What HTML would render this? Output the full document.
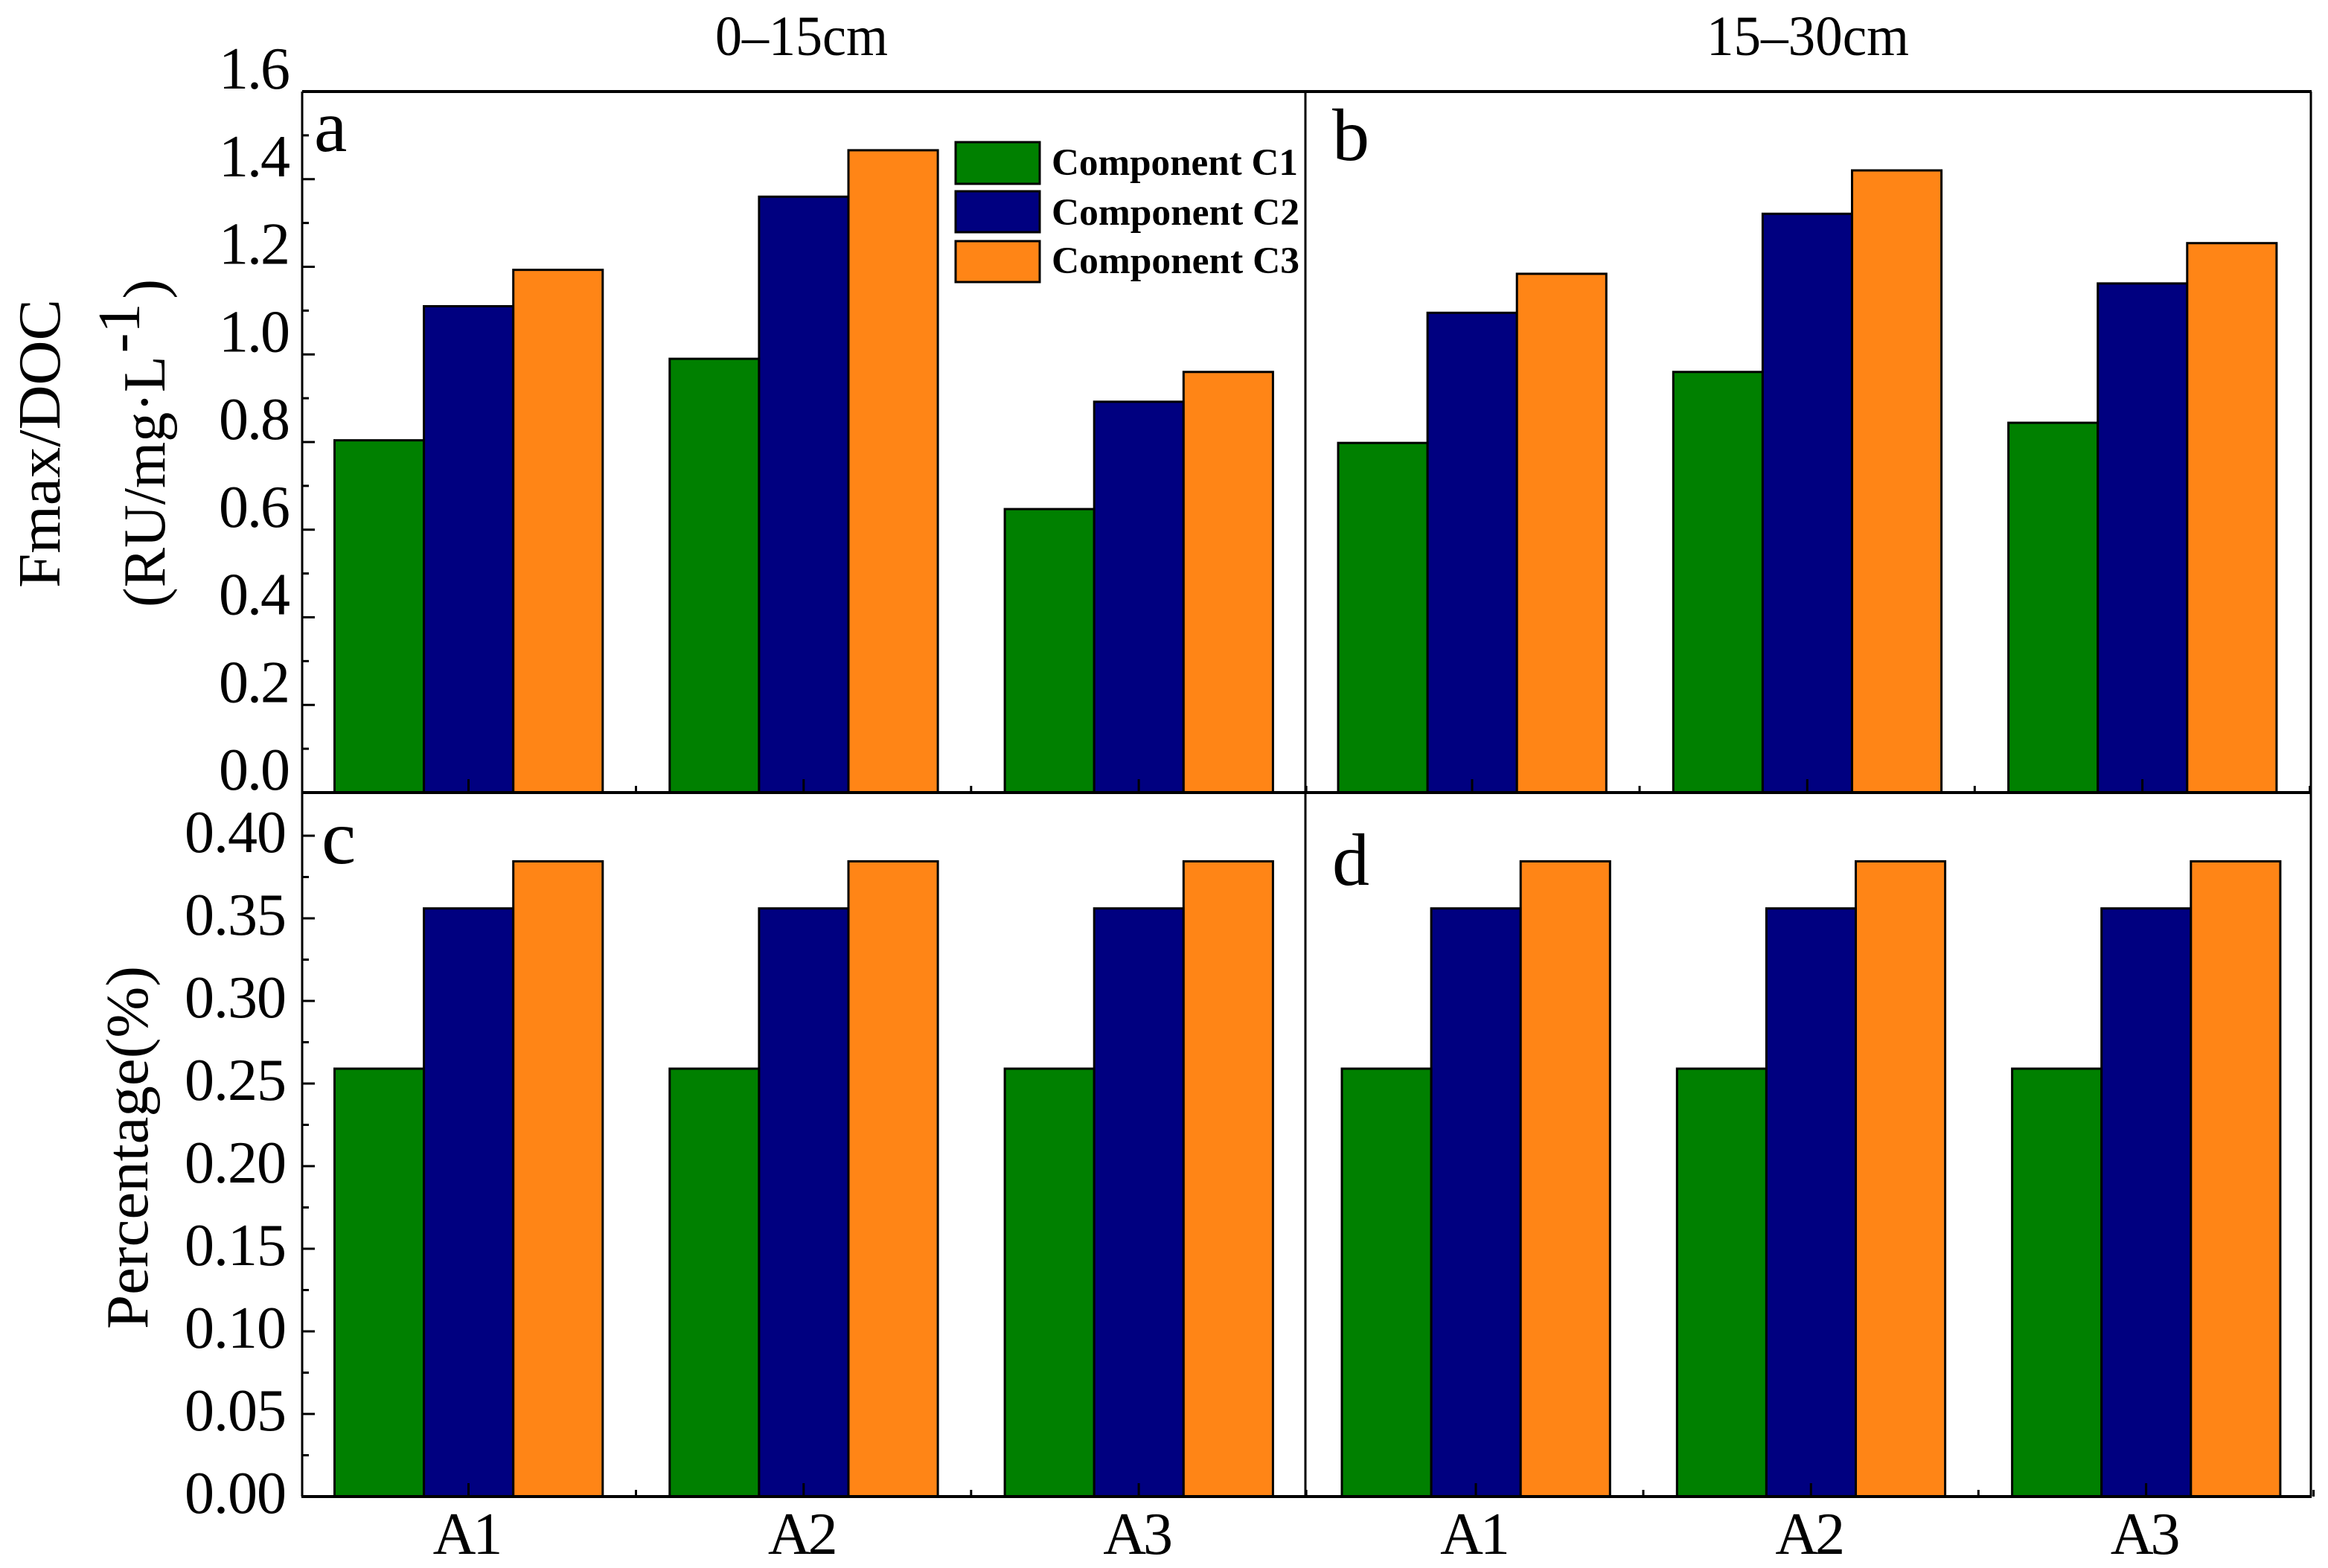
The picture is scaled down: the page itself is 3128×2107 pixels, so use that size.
<!DOCTYPE html>
<html lang="en">
<head>
<meta charset="utf-8">
<title>Fmax/DOC and Percentage by Component</title>
<style>
html,body{margin:0;padding:0;background:#fff;}
svg{display:block;}
text{font-family:"Liberation Serif",serif;fill:#000;}
</style>
</head>
<body>
<svg id="chart" xmlns="http://www.w3.org/2000/svg" width="3128" height="2107" viewBox="0 0 3128 2107">
  <rect x="0" y="0" width="3128" height="2107" fill="#ffffff"/>
  <g id="marks"></g>
  <g id="axes"></g>

  <text x="961" y="74" font-size="76" textLength="232" lengthAdjust="spacingAndGlyphs">0–15cm</text>
  <text x="2293" y="74" font-size="76" textLength="272" lengthAdjust="spacingAndGlyphs">15–30cm</text>

  <text transform="translate(80,790) rotate(-90)" font-size="80" textLength="388" lengthAdjust="spacingAndGlyphs">Fmax/DOC</text>
  <text transform="translate(221,816) rotate(-90)" font-size="80">(RU/mg·L<tspan dx="4" dy="-34">-1</tspan><tspan dx="6" dy="34">)</tspan></text>
  <text transform="translate(198,1786) rotate(-90)" font-size="80" textLength="488" lengthAdjust="spacingAndGlyphs">Percentage(%)</text>

  <text x="422" y="203" font-size="100">a</text>
  <text x="1790" y="215" font-size="100">b</text>
  <text x="432" y="1160" font-size="104">c</text>
  <text x="1790" y="1189" font-size="100">d</text>

  <g>
    <rect x="1284" y="191" width="113" height="56" fill="#008000" stroke="#000" stroke-width="3"/>
    <rect x="1284" y="257" width="113" height="55" fill="#000080" stroke="#000" stroke-width="3"/>
    <rect x="1284" y="324" width="113" height="55" fill="#ff8516" stroke="#000" stroke-width="3"/>
    <text x="1413" y="235" font-size="51" font-weight="bold" textLength="331" lengthAdjust="spacingAndGlyphs">Component C1</text>
    <text x="1413" y="302" font-size="51" font-weight="bold" textLength="333" lengthAdjust="spacingAndGlyphs">Component C2</text>
    <text x="1413" y="367" font-size="51" font-weight="bold" textLength="333" lengthAdjust="spacingAndGlyphs">Component C3</text>
  </g>
</svg>
<script>
const categories = ['A1', 'A2', 'A3'];
const seriesNames = ['c1', 'c2', 'c3'];
const seriesColors = ['#008000', '#000080', '#ff8516'];

const panelAC1 = [0.804, 0.99, 0.647];
const panelAC2 = [1.11, 1.36, 0.892];
const panelAC3 = [1.193, 1.466, 0.96];

const panelBC1 = [0.798, 0.96, 0.844];
const panelBC2 = [1.095, 1.321, 1.162];
const panelBC3 = [1.184, 1.42, 1.254];

const panelCC1 = [0.259, 0.259, 0.259];
const panelCC2 = [0.356, 0.356, 0.356];
const panelCC3 = [0.3845, 0.3845, 0.3845];

const panelDC1 = [0.259, 0.259, 0.259];
const panelDC2 = [0.356, 0.356, 0.356];
const panelDC3 = [0.3845, 0.3845, 0.3845];

const topTicks = [0, 0.2, 0.4, 0.6, 0.8, 1.0, 1.2, 1.4, 1.6];
const topTickLabels = ['0.0', '0.2', '0.4', '0.6', '0.8', '1.0', '1.2', '1.4', '1.6'];
const bottomTicks = [0, 0.05, 0.10, 0.15, 0.20, 0.25, 0.30, 0.35, 0.40];
const bottomTickLabels = ['0.00', '0.05', '0.10', '0.15', '0.20', '0.25', '0.30', '0.35', '0.40'];

const SVGNS = 'http://www.w3.org/2000/svg';
const marks = document.getElementById('marks');
const axes = document.getElementById('axes');

function yTop(v) { return 1065 - v * 588.75; }
function yBottom(v) { return 2011 - v * 2220; }
function groupStart(firstX, i) { return firstX + i * 450.3; }

function drawLine(parent, x1, y1, x2, y2, w, name) {
  const l = document.createElementNS(SVGNS, 'line');
  l.setAttribute('x1', x1);
  l.setAttribute('y1', y1);
  l.setAttribute('x2', x2);
  l.setAttribute('y2', y2);
  l.setAttribute('stroke', '#000');
  l.setAttribute('stroke-width', w);
  
  
  parent.appendChild(l);
}

function drawBars(panel, series, firstX, yFn, baseY) {
  series.forEach(function (vals, s) {
    vals.forEach(function (v, c) {
      const x = groupStart(firstX, c) + s * 120.1;
      const y = yFn(v);
      const r = document.createElementNS(SVGNS, 'rect');
      r.setAttribute('x', x);
      r.setAttribute('y', y);
      r.setAttribute('width', 120.1);
      r.setAttribute('height', baseY - y);
      r.setAttribute('fill', seriesColors[s]);
      r.setAttribute('stroke', '#000');
      r.setAttribute('stroke-width', 3);
      
      
      marks.appendChild(r);
    });
  });
}

function drawYAxis(panel, ticks, labels, yFn, labelX, labelDy, spacing) {
  const step = ticks[1] - ticks[0];
  ticks.forEach(function (t, i) {
    drawLine(axes, 406, yFn(t), 423, yFn(t), 3, 'y-tick-' + panel + '-' + labels[i]);
    if (i < ticks.length - 1) {
      drawLine(axes, 406, yFn(t + step / 2), 415, yFn(t + step / 2), 3, 'y-minor-tick-' + panel + '-' + i);
    }
    const tx = document.createElementNS(SVGNS, 'text');
    tx.setAttribute('x', labelX);
    tx.setAttribute('y', yFn(t) + labelDy);
    tx.setAttribute('font-size', 80);
    tx.setAttribute('text-anchor', 'end');
    tx.setAttribute('letter-spacing', spacing);
    
    
    tx.textContent = labels[i];
    axes.appendChild(tx);
  });
}

function drawXTicks(panel, firstX, baseY, showLabels) {
  categories.forEach(function (cat, c) {
    const cx = groupStart(firstX, c) + 180;
    drawLine(axes, cx, baseY, cx, baseY - 18, 3, 'x-tick-' + panel + '-' + cat.toLowerCase());
    drawLine(axes, cx + 225, baseY, cx + 225, baseY - 9, 3, 'x-minor-tick-' + panel + '-' + c);
    if (showLabels) {
      const tx = document.createElementNS(SVGNS, 'text');
      tx.setAttribute('x', cx - 3);
      tx.setAttribute('y', 2088);
      tx.setAttribute('font-size', 80);
      tx.setAttribute('text-anchor', 'middle');
      tx.setAttribute('letter-spacing', '-4');
      
      
      tx.textContent = cat;
      axes.appendChild(tx);
    }
  });
}

drawBars('a', [panelAC1, panelAC2, panelAC3], 449.5, yTop, 1065);
drawBars('b', [panelBC1, panelBC2, panelBC3], 1798, yTop, 1065);
drawBars('c', [panelCC1, panelCC2, panelCC3], 449.5, yBottom, 2011);
drawBars('d', [panelDC1, panelDC2, panelDC3], 1803, yBottom, 2011);

drawYAxis('a', topTicks, topTickLabels, yTop, 388, -4, '-2');
drawYAxis('c', bottomTicks, bottomTickLabels, yBottom, 384, 22, '-1');

drawXTicks('a', 449.5, 1065, false);
drawXTicks('b', 1798, 1065, false);
drawXTicks('c', 449.5, 2011, true);
drawXTicks('d', 1803, 2011, true);

drawLine(axes, 406, 123, 3106, 123, 4, 'frame-top');
drawLine(axes, 406, 1065, 3106, 1065, 4, 'frame-middle');
drawLine(axes, 405, 2011, 3106, 2011, 4, 'frame-bottom');
drawLine(axes, 406, 123, 406, 2011, 3, 'frame-left');
drawLine(axes, 1754, 123, 1754, 2011, 3, 'frame-divider');
drawLine(axes, 3105, 123, 3105, 2011, 3, 'frame-right');
</script>
</body>
</html>
